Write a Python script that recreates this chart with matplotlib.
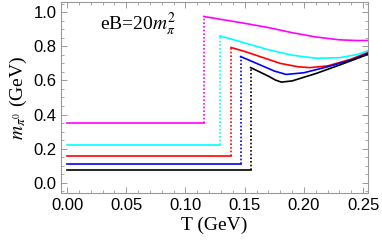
import matplotlib
matplotlib.use("Agg")
import matplotlib.pyplot as plt
from matplotlib.ticker import MultipleLocator, FormatStrFormatter

plt.rcParams['mathtext.fontset'] = 'stix'

# low-T plateau values and jump temperatures
colors = ['magenta', 'cyan', 'red', 'blue', 'black']
m_low = [0.353, 0.221, 0.158, 0.111, 0.072]
T_jump = [0.1155, 0.129, 0.1385, 0.1465, 0.155]

# high-T branches (start at the jump)
T_hi = [
    [0.1155, 0.13, 0.15, 0.17, 0.19, 0.21, 0.23, 0.245, 0.255],
    [0.129, 0.14, 0.155, 0.17, 0.19, 0.21, 0.23, 0.245, 0.255],
    [0.1385, 0.15, 0.165, 0.18, 0.195, 0.205, 0.22, 0.24, 0.255],
    [0.1465, 0.155, 0.165, 0.175, 0.185, 0.20, 0.22, 0.24, 0.255],
    [0.155, 0.162, 0.17, 0.176, 0.181, 0.19, 0.21, 0.23, 0.255],
]
m_hi = [
    [0.975, 0.958, 0.935, 0.91, 0.88, 0.855, 0.838, 0.834, 0.834],
    [0.861, 0.84, 0.81, 0.78, 0.748, 0.73, 0.733, 0.752, 0.775],
    [0.793, 0.77, 0.735, 0.70, 0.68, 0.675, 0.685, 0.725, 0.766],
    [0.74, 0.715, 0.685, 0.655, 0.635, 0.645, 0.68, 0.72, 0.76],
    [0.675, 0.652, 0.625, 0.602, 0.59, 0.597, 0.64, 0.69, 0.755],
]

fig = plt.figure(figsize=(3.82, 2.48), dpi=100)
ax = fig.add_axes([0.160, 0.222, 0.803, 0.770])

for c, ml, tj, th, mh in zip(colors, m_low, T_jump, T_hi, m_hi):
    ax.plot([0.0, tj], [ml, ml], color=c, lw=1.2)
    ax.plot([tj, tj], [ml, mh[0]], color=c, lw=1.2, ls=(0, (1, 1.2)))
    ax.plot(th, mh, color=c, lw=1.2)

ax.set_xlim(-0.005, 0.254)
ax.set_ylim(-0.06, 1.06)
ax.xaxis.set_major_locator(MultipleLocator(0.05))
ax.xaxis.set_minor_locator(MultipleLocator(0.01))
ax.yaxis.set_major_locator(MultipleLocator(0.2))
ax.yaxis.set_minor_locator(MultipleLocator(0.05))
ax.xaxis.set_major_formatter(FormatStrFormatter('%.2f'))
ax.yaxis.set_major_formatter(FormatStrFormatter('%.1f'))

for s in ax.spines.values():
    s.set_color('#999999')
    s.set_linewidth(0.8)
ax.tick_params(which='both', direction='in', top=True, right=True, color='#999999')
ax.tick_params(which='major', length=4, width=0.7, labelsize=12)
ax.tick_params(which='minor', length=2, width=0.6)
for lab in ax.get_xticklabels() + ax.get_yticklabels():
    lab.set_family('Liberation Sans')

ax.set_xlabel('T (GeV)', family='Liberation Serif', fontsize=14, labelpad=3)
ax.set_ylabel(r'$m_{\pi^0}$ (GeV)', family='Liberation Serif', fontsize=14, labelpad=3)
ax.text(0.028, 0.93, r'eB=20$m_\pi^2$', family='Liberation Serif', fontsize=14,
        transform=ax.transData, va='center')

fig.savefig('out.png', dpi=100)
